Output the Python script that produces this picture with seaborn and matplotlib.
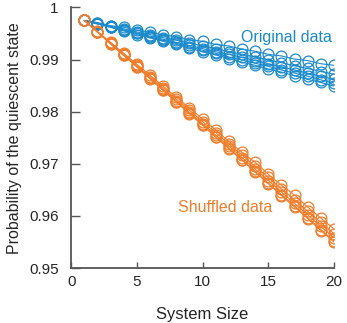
import pandas as pd
import matplotlib
matplotlib.use("Agg")
import matplotlib.pyplot as plt
import seaborn as sns

# system sizes
sizes = list(range(1, 21))

# original data, five runs
orig_1 = [0.9975, 0.9971, 0.9965, 0.9962, 0.9956, 0.9953, 0.9947, 0.9944, 0.9938, 0.9935,
          0.9929, 0.9926, 0.9920, 0.9916, 0.9910, 0.9907, 0.9901, 0.9898, 0.9892, 0.9889]
orig_2 = [0.9975, 0.9970, 0.9964, 0.9959, 0.9953, 0.9948, 0.9942, 0.9937, 0.9932, 0.9926,
          0.9921, 0.9915, 0.9910, 0.9905, 0.9899, 0.9894, 0.9888, 0.9883, 0.9877, 0.9872]
orig_3 = [0.9975, 0.9969, 0.9963, 0.9957, 0.9951, 0.9945, 0.9939, 0.9933, 0.9927, 0.9921,
          0.9915, 0.9910, 0.9904, 0.9898, 0.9892, 0.9886, 0.9880, 0.9874, 0.9868, 0.9862]
orig_4 = [0.9975, 0.9969, 0.9962, 0.9956, 0.9950, 0.9943, 0.9937, 0.9931, 0.9924, 0.9918,
          0.9912, 0.9905, 0.9899, 0.9893, 0.9887, 0.9880, 0.9874, 0.9868, 0.9861, 0.9855]
orig_5 = [0.9975, 0.9968, 0.9962, 0.9955, 0.9948, 0.9942, 0.9935, 0.9929, 0.9922, 0.9915,
          0.9909, 0.9902, 0.9895, 0.9889, 0.9882, 0.9876, 0.9869, 0.9862, 0.9856, 0.9849]

# shuffled data, five runs
shuf_1 = [0.9975, 0.9954, 0.9933, 0.9912, 0.9891, 0.9870, 0.9849, 0.9828, 0.9807, 0.9786,
          0.9765, 0.9743, 0.9722, 0.9703, 0.9680, 0.9659, 0.9640, 0.9617, 0.9596, 0.9575]
shuf_2 = [0.9975, 0.9953, 0.9932, 0.9910, 0.9889, 0.9867, 0.9846, 0.9824, 0.9803, 0.9781,
          0.9760, 0.9738, 0.9717, 0.9695, 0.9674, 0.9652, 0.9631, 0.9609, 0.9588, 0.9566]
shuf_3 = [0.9975, 0.9953, 0.9931, 0.9909, 0.9887, 0.9865, 0.9843, 0.9821, 0.9799, 0.9777,
          0.9755, 0.9734, 0.9712, 0.9690, 0.9668, 0.9646, 0.9624, 0.9602, 0.9580, 0.9558]
shuf_4 = [0.9975, 0.9953, 0.9930, 0.9908, 0.9886, 0.9864, 0.9841, 0.9819, 0.9797, 0.9775,
          0.9752, 0.9730, 0.9708, 0.9686, 0.9663, 0.9641, 0.9619, 0.9597, 0.9574, 0.9552]
shuf_5 = [0.9975, 0.9953, 0.9930, 0.9908, 0.9886, 0.9863, 0.9841, 0.9818, 0.9796, 0.9774,
          0.9751, 0.9729, 0.9707, 0.9684, 0.9662, 0.9639, 0.9617, 0.9595, 0.9572, 0.9550]

x_ticks = [0, 5, 10, 15, 20]
y_ticks = [0.95, 0.96, 0.97, 0.98, 0.99, 1.0]
y_tick_labels = ["0.95", "0.96", "0.97", "0.98", "0.99", "1"]

blue = "#1a8acb"
orange = "#f07d2a"

rows = []
for name, runs in [("Original", [orig_1, orig_2, orig_3, orig_4, orig_5]),
                   ("Shuffled", [shuf_1, shuf_2, shuf_3, shuf_4, shuf_5])]:
    for i, run in enumerate(runs):
        for s, p in zip(sizes, run):
            rows.append({"size": s, "prob": p, "kind": name, "run": f"{name}{i}"})
df = pd.DataFrame(rows)

sns.set_style("white")
plt.rcParams["font.family"] = ["Liberation Sans", "DejaVu Sans"]

fig, ax = plt.subplots(figsize=(3.47, 3.23), dpi=100)
fig.subplots_adjust(left=0.205, right=0.9625, bottom=0.17, top=0.977)

sns.lineplot(data=df, x="size", y="prob", hue="kind", units="run", estimator=None,
             hue_order=["Original", "Shuffled"], palette=[blue, orange],
             marker="o", markersize=7.8, linewidth=0.8, legend=False, ax=ax)

for line in ax.lines:
    c = line.get_color()
    line.set_markerfacecolor("none")
    line.set_markeredgecolor(c)
    line.set_markeredgewidth(0.9)

ax.set_xlim(0, 20)
ax.set_ylim(0.95, 1.0)
ax.set_xticks(x_ticks)
ax.set_yticks(y_ticks)
ax.set_yticklabels(y_tick_labels)

for side in ["top", "right"]:
    ax.spines[side].set_visible(False)
for side in ["left", "bottom"]:
    ax.spines[side].set_color("#555555")
    ax.spines[side].set_linewidth(1.3)

ax.tick_params(axis="y", direction="in", length=6.5, width=1, color="#555555",
               labelsize=11, pad=9, left=True)
ax.tick_params(axis="x", direction="in", length=4.3, width=1, color="#555555",
               labelsize=11, pad=5, bottom=True)

ax.set_xlabel("System Size", fontsize=12, labelpad=13)
ax.set_ylabel("Probability of the quiescent state", fontsize=11.5, labelpad=5)

ax.text(16.4, 0.9942, "Original data", color=blue, fontsize=11.5, ha="center", va="center")
ax.text(11.7, 0.9617, "Shuffled data", color=orange, fontsize=11.5, ha="center", va="center")

fig.savefig("out.png", dpi=100)
